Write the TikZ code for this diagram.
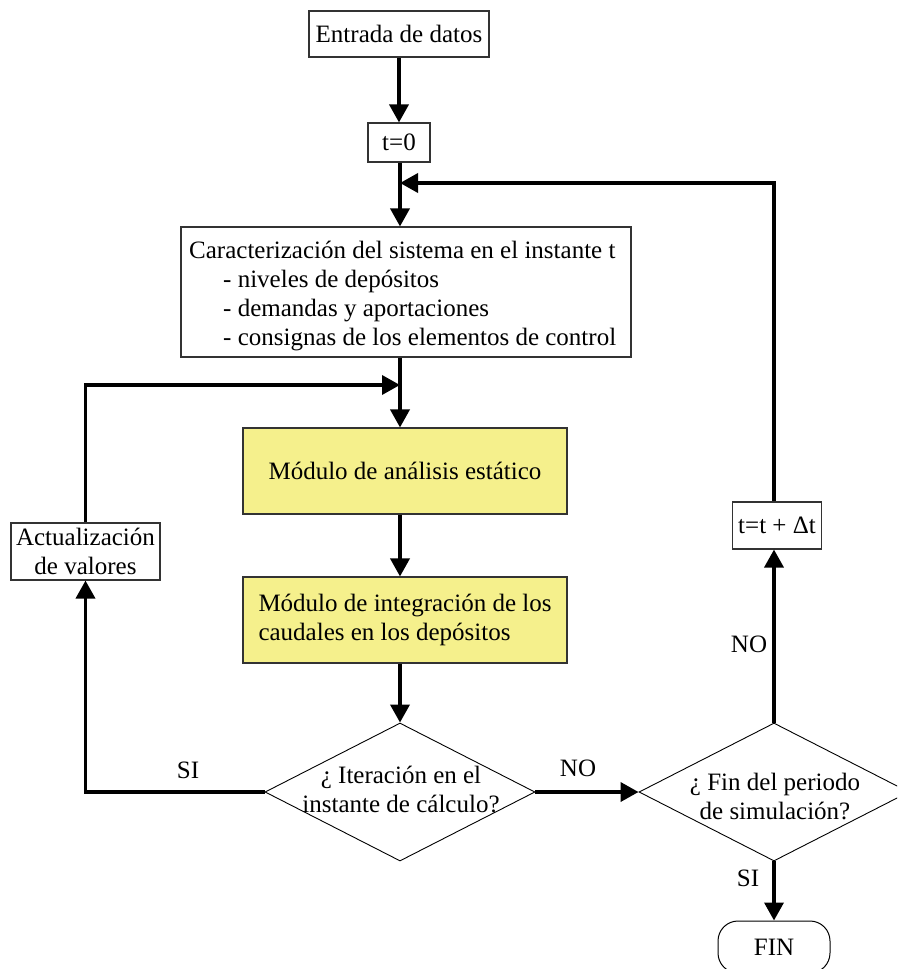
\documentclass[tikz,border=0pt]{standalone}
\usepackage{fontspec}
\setmainfont{Liberation Serif}
\usetikzlibrary{shapes.geometric,arrows.meta}
\definecolor{yellowbox}{RGB}{245,240,140}
\begin{document}
\begin{tikzpicture}[x=1pt,y=-1pt,
  font=\fontsize{25}{29}\selectfont,
  box/.style={draw=black!80, line width=1.1pt, fill=white, inner sep=0pt, align=center},
  ybox/.style={box, fill=yellowbox},
  dec/.style={diamond, draw=black, line width=0.9pt, inner sep=0pt, minimum width=270pt, minimum height=138pt, fill=white},
  arr/.style={line width=3.6pt, -{Triangle[length=18pt,width=19pt]}},
  lbl/.style={inner sep=0pt}]
\useasboundingbox (0,0) rectangle (897,969);
\clip (0,0) rectangle (897,969);
\fill[white] (0,0) rectangle (897,969);

\coordinate (j1) at (400,183);
\coordinate (j2) at (400,385);

\node[box, minimum width=180pt, minimum height=46pt] (ent) at (399,34) {Entrada de datos};
\node[box, minimum width=62pt, minimum height=39pt] (t0) at (399,142.5) {t=0};
\node[box, minimum width=450pt, minimum height=130pt] (car) at (406,292) {};
\node[lbl, anchor=base west] (c1) at (189,258) {Caracterización del sistema en el instante t};
\node[lbl, anchor=base west] (c2) at (223,287) {- niveles de depósitos};
\node[lbl, anchor=base west] (c3) at (223,316) {- demandas y aportaciones};
\node[lbl, anchor=base west] (c4) at (223,345) {- consignas de los elementos de control};

\node[ybox, minimum width=324pt, minimum height=86pt] (m1) at (405,471) {Módulo de análisis estático};
\node[ybox, minimum width=324pt, minimum height=86pt, align=left] (m2) at (405,620) {Módulo de integración de los\\caudales en los depósitos};

\node[dec] (d1) at (400,792) {};
\node[lbl, align=center] (d1t) at (401,789) {¿ Iteración en el\\instante de cálculo?};
\node[dec] (d2) at (774,792) {};
\node[lbl, align=center] (d2t) at (775,796) {¿ Fin del periodo\\de simulación?};

\node[box, minimum width=89pt, minimum height=47pt] (tt) at (777,525.5) {t=t + Δt};
\node[box, minimum width=149pt, minimum height=57pt] (act) at (85.5,551.5) {Actualización\\de valores};
\node[draw=black, line width=1pt, rounded corners=20pt, minimum width=112pt, minimum height=52pt, inner sep=0pt] (fin) at (774,947) {FIN};

\draw[arr] (ent.south) -- (t0.north);
\draw[arr] (t0.south -| j1) -- (car.north -| j1);
\draw[arr] (tt.north -| d2) |- (j1);
\draw[arr] (car.south -| j2) -- (m1.north -| j2);
\draw[arr] (act.north) |- (j2);
\draw[arr] (m1.south -| j2) -- (m2.north -| j2);
\draw[arr] (m2.south -| j2) -- (d1.north);
\draw[arr] (d1.west) -| (act.south);
\draw[arr] (d1.east) -- (d2.west);
\draw[arr] (d2.north) -- (d2.north |- tt.south);
\draw[arr] (d2.south) -- (d2.south |- fin.north);

\node[lbl] (l1) at (188,770) {SI};
\node[lbl] (l2) at (578,768) {NO};
\node[lbl] (l3) at (749,644) {NO};
\node[lbl] (l4) at (748,878) {SI};
\end{tikzpicture}
\end{document}
